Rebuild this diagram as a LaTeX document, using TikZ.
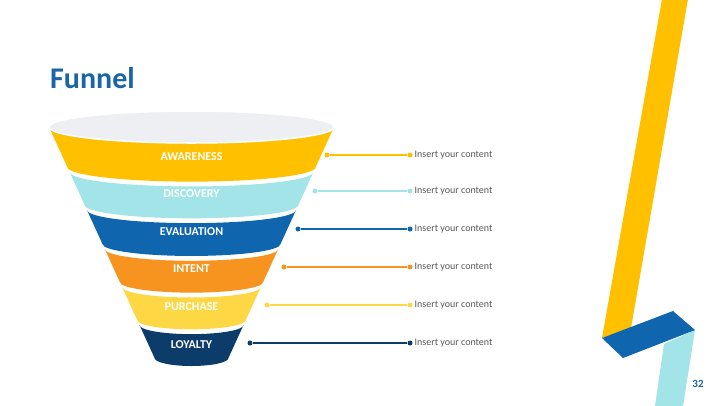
\documentclass[tikz,border=0pt]{standalone}
\usepackage{fontspec}
\setmainfont{Carlito}
\definecolor{cAw}{HTML}{FFC000}
\definecolor{cDi}{HTML}{A2E4E7}
\definecolor{cEv}{HTML}{1066AE}
\definecolor{cIn}{HTML}{F7941F}
\definecolor{cPu}{HTML}{FDD844}
\definecolor{cLo}{HTML}{0C3C69}
\definecolor{cTop}{HTML}{EDEFF3}
\definecolor{cTitle}{HTML}{1A65A8}
\definecolor{cTxt}{HTML}{595959}
\newcommand\fcx{191.5}
\newcommand\fband[3]{%
 \pgfmathsetmacro\fbWt{142.5-0.457*(#2-127)}%
 \pgfmathsetmacro\fbWb{142.5-0.457*(#3-127)}%
 \pgfmathsetmacro\fbRt{16-8*(#2-127)/231}%
 \pgfmathsetmacro\fbRb{16-8*(#3-127)/231}%
 \fill[#1] (\fcx-\fbWt,#2) .. controls (\fcx-\fbWt,#2+0.552*\fbRt) and (\fcx-0.552*\fbWt,#2+\fbRt) .. (\fcx,#2+\fbRt)
   .. controls (\fcx+0.552*\fbWt,#2+\fbRt) and (\fcx+\fbWt,#2+0.552*\fbRt) .. (\fcx+\fbWt,#2)
   -- (\fcx+\fbWb,#3) .. controls (\fcx+\fbWb,#3+0.552*\fbRb) and (\fcx+0.552*\fbWb,#3+\fbRb) .. (\fcx,#3+\fbRb)
   .. controls (\fcx-0.552*\fbWb,#3+\fbRb) and (\fcx-\fbWb,#3+0.552*\fbRb) .. (\fcx-\fbWb,#3) -- cycle;}
\tikzset{
 bandlabel/.style={text=white,font=\fontsize{12bp}{14bp}\selectfont\bfseries},
 dotnode/.style={circle,fill=#1,inner sep=0pt,minimum size=5bp},
 conn/.style={draw=#1,line width=1.1bp},
 content/.style={anchor=west,inner sep=0pt,text=cTxt,font=\fontsize{10bp}{12bp}\selectfont},
}
\begin{document}
\begin{tikzpicture}[x=1bp,y=-1bp]
\useasboundingbox[fill=white] (0,0) rectangle (720,405);
% title
\node[anchor=base west,inner sep=0pt,text=cTitle,font=\fontsize{30bp}{36bp}\selectfont\bfseries] (title) at (50,88) {Funnel};
% funnel bands
\fband{cAw}{127}{167}
\fband{cDi}{172}{205}
\fband{cEv}{210}{244}
\fband{cIn}{249}{282}
\fband{cPu}{287}{320}
\fband{cLo}{325}{358}
\fill[cTop,draw=white,line width=1.5bp] (\fcx,127) ellipse [x radius=142.5bp,y radius=16bp];
% labels
\node[bandlabel] (lAw) at (\fcx,157) {AWARENESS};
\node[bandlabel] (lDi) at (\fcx,194) {DISCOVERY};
\node[bandlabel] (lEv) at (\fcx,232) {EVALUATION};
\node[bandlabel] (lIn) at (\fcx,269) {INTENT};
\node[bandlabel] (lPu) at (\fcx,307) {PURCHASE};
\node[bandlabel] (lLo) at (\fcx,345) {LOYALTY};
% connectors
\foreach \nm/\col/\xl/\yy in {Aw/cAw/327/155, Di/cDi/315/191, Ev/cEv/298/229, In/cIn/284/267, Pu/cPu/267/305, Lo/cLo/250/343}{
 \node[dotnode=\col] (s\nm) at (\xl,\yy) {};
 \node[dotnode=\col] (e\nm) at (410,\yy) {};
 \draw[conn=\col] (s\nm) -- (e\nm);
 \node[content] (t\nm) at (414.5,\yy) {Insert your content};
}
% decoration right
\fill[cDi] (664,344) -- (695,330) -- (683,406) -- (655,406) -- cycle;
\fill[cAw] (662,-1) -- (688,-1) -- (631,328) -- (602,338) -- cycle;
\fill[cEv] (602,338) -- (673,311) -- (695,330) -- (623,358) -- cycle;
\node[text=cTitle,font=\fontsize{11bp}{13bp}\selectfont\bfseries] (pnum) at (698,384) {32};
\end{tikzpicture}
\end{document}
